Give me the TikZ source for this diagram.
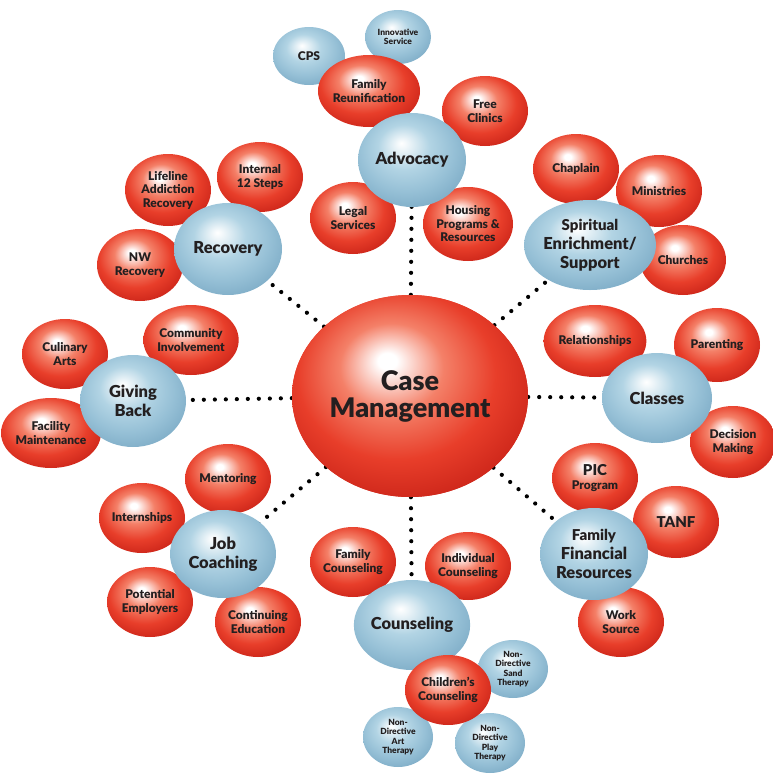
\documentclass[tikz,border=0pt]{standalone}
\usepackage{fontspec}
\IfFontExistsTF{Lato Black}{\setmainfont{Lato}[BoldFont={Lato Black}]}{\setmainfont{Lato}}
\usepackage{tikz}
\usetikzlibrary{shapes.geometric}

\definecolor{rbmid}{RGB}{244,128,104}
\definecolor{rbedge}{RGB}{232,62,42}
\definecolor{rbdark}{RGB}{205,38,26}
\definecolor{bbmid}{RGB}{178,212,228}
\definecolor{bbedge}{RGB}{150,192,214}
\definecolor{bbdark}{RGB}{128,174,200}
\definecolor{ink}{RGB}{35,31,32}

\pgfdeclareradialshading{redglow}{\pgfpoint{-5bp}{9bp}}{color(0bp)=(white); color(2bp)=(white); color(11bp)=(rbmid); color(21bp)=(rbedge); color(30bp)=(rbdark); color(50bp)=(rbdark)}
\pgfdeclareradialshading{blueglow}{\pgfpoint{-5bp}{9bp}}{color(0bp)=(white); color(2bp)=(white!85!bbmid); color(12bp)=(bbmid); color(22bp)=(bbedge); color(30bp)=(bbdark); color(50bp)=(bbdark)}

\tikzset{
  ballbase/.style={ellipse, inner sep=0pt, align=center, text=ink},
  core/.style={ballbase, shading=redglow, minimum width=236pt, minimum height=202pt,
    font=\bfseries\fontsize{27}{27}\selectfont},
  hub/.style={ballbase, shading=blueglow, minimum width=108pt, minimum height=92pt,
    font=\bfseries\fontsize{16.5}{19}\selectfont},
  sat/.style={ballbase, shading=redglow, minimum width=86pt, minimum height=70pt,
    font=\bfseries\fontsize{12}{13.5}\selectfont},
  mini/.style={ballbase, shading=blueglow, minimum width=70pt, minimum height=58pt,
    font=\bfseries\fontsize{8.5}{9.5}\selectfont},
  dots/.style={line width=4.2pt, line cap=round, dash pattern=on 0pt off 11pt, black}
}

\begin{document}
\begin{tikzpicture}[x=1pt, y=-1pt]
  \useasboundingbox (0,0) rectangle (773,774);

  % centre ball
  \node[core] (cm) at (410,396) {Case\\Management};

  % hub positions
  \coordinate (advpos) at (412,160);
  \coordinate (recpos) at (228,249);
  \coordinate (spirpos) at (590,245);
  \coordinate (clspos) at (657,398);
  \coordinate (ffrpos) at (594,554);
  \coordinate (coupos) at (412,625);
  \coordinate (jobpos) at (223,554);
  \coordinate (givepos) at (133,401);

  % small blue balls at the top
  \node[mini, minimum width=72pt] (cps) at (309,56) {\fontsize{12}{13}\selectfont CPS};
  \node[mini, minimum width=66pt, minimum height=54pt] (innov) at (398,37) {Innovative\\Service};

  % red satellites
  \node[sat, minimum width=88pt, minimum height=72pt] (reunif) at (369,91) {Family\\Reunification};
  \node[sat] (clinics) at (485,111) {Free\\Clinics};
  \node[sat, minimum height=72pt] (legal) at (353,218) {Legal\\Services};
  \node[sat, minimum width=90pt, minimum height=74pt] (housing) at (468,224) {Housing\\Programs \&\\Resources};

  \node[sat, minimum height=72pt] (lifeline) at (168,190) {Lifeline\\Addiction\\Recovery};
  \node[sat] (steps) at (260,177) {Internal\\12 Steps};
  \node[sat, minimum height=72pt] (nwrec) at (140,265) {NW\\Recovery};

  \node[sat] (culinary) at (65,354) {Culinary\\Arts};
  \node[sat] (community) at (191,340) {Community\\Involvement};
  \node[sat] (facility) at (51,433) {Facility\\Maintenance};

  \node[sat] (chaplain) at (576,169) {Chaplain};
  \node[sat, minimum height=72pt] (ministries) at (659,191) {Ministries};
  \node[sat] (churches) at (683,260) {Churches};

  \node[sat, minimum height=72pt] (relations) at (595,341) {Relationships};
  \node[sat, minimum height=74pt] (parenting) at (717,345) {Parenting};
  \node[sat, minimum height=72pt] (decision) at (733,442) {Decision\\Making};

  \node[sat] (pic) at (595,478) {{\fontsize{15}{15}\selectfont PIC}\\Program};
  \node[sat, minimum height=72pt] (tanf) at (676,522) {\fontsize{15}{15}\selectfont TANF};
  \node[sat] (worksrc) at (621,622) {Work\\Source};

  \node[sat] (mentoring) at (228,479) {Mentoring};
  \node[sat] (intern) at (142,518) {Internships};
  \node[sat] (employers) at (150,602) {Potential\\Employers};
  \node[sat] (contedu) at (258,622) {Continuing\\Education};

  \node[sat] (famcou) at (353,562) {Family\\Counseling};
  \node[sat, minimum height=68pt] (indcou) at (468,566) {Individual\\Counseling};

  % dotted spokes
  \draw[dots] (cm) -- (advpos);
  \draw[dots] (cm) -- (recpos);
  \draw[dots] (cm) -- (spirpos);
  \draw[dots] (cm) -- (clspos);
  \draw[dots] (cm) -- (ffrpos);
  \draw[dots] (cm) -- (coupos);
  \draw[dots] (cm) -- (jobpos);
  \draw[dots] (cm) -- (givepos);
  \node[core] at (cm) {Case\\Management};

  % blue hubs
  \node[hub, minimum height=94pt] (adv) at (advpos) {Advocacy};
  \node[hub] (rec) at (recpos) {Recovery};
  \node[hub, minimum width=106pt, minimum height=90pt] (spir) at (spirpos) {\fontsize{15}{17}\selectfont Spiritual\\Enrichment/\\Support};
  \node[hub, minimum width=110pt, minimum height=90pt] (cls) at (clspos) {Classes};
  \node[hub] (ffr) at (ffrpos) {\fontsize{15}{17}\selectfont Family\\Financial\\Resources};
  \node[hub, minimum height=90pt] (cou) at (coupos) {Counseling};
  \node[hub, minimum width=106pt, minimum height=88pt] (job) at (jobpos) {Job\\Coaching};
  \node[hub, minimum width=106pt] (give) at (givepos) {Giving\\Back};

  % children's counseling cluster
  \node[mini] (sand) at (513,669) {Non-\\Directive\\Sand\\Therapy};
  \node[mini, minimum height=60pt] (art) at (398,737) {Non-\\Directive\\Art\\Therapy};
  \node[mini, minimum height=60pt] (play) at (490,743) {Non-\\Directive\\Play\\Therapy};
  \node[sat] (childcou) at (448,690) {Children's\\Counseling};
\end{tikzpicture}
\end{document}
